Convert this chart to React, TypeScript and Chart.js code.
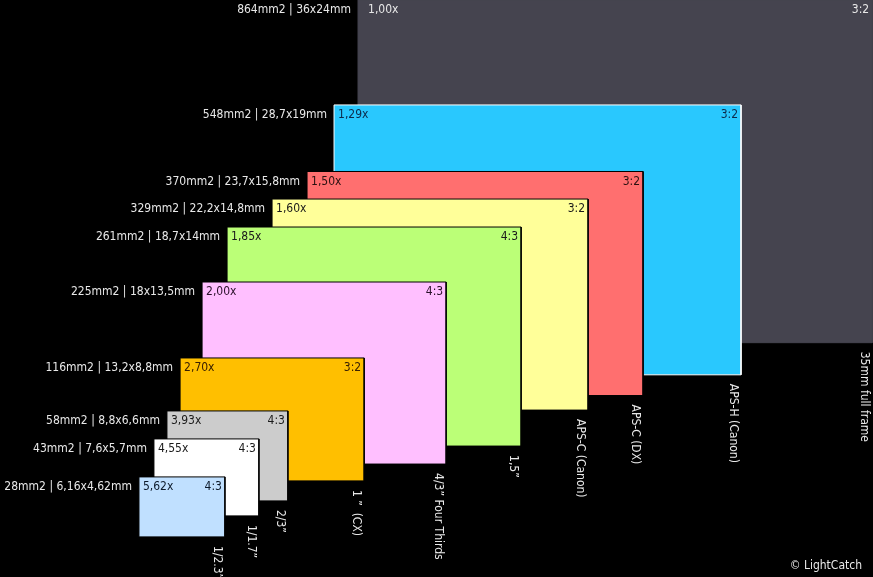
import React, { useEffect, useRef } from 'react';
import { Chart, registerables } from 'chart.js';

Chart.register(...registerables);

// ---- data ----
const sensorNames = [
  '35mm full frame',
  'APS-H (Canon)',
  'APS-C (DX)',
  'APS-C (Canon)',
  '1,5”',
  '4/3” Four Thirds',
  '1 ”  (CX)',
  '2/3”',
  '1/1.7”',
  '1/2.3”',
];
const sizeLabels = [
  '864mm2 | 36x24mm',
  '548mm2 | 28,7x19mm',
  '370mm2 | 23,7x15,8mm',
  '329mm2 | 22,2x14,8mm',
  '261mm2 | 18,7x14mm',
  '225mm2 | 18x13,5mm',
  '116mm2 | 13,2x8,8mm',
  '58mm2 | 8,8x6,6mm',
  '43mm2 | 7,6x5,7mm',
  '28mm2 | 6,16x4,62mm',
];
const cropFactors = ['1,00x', '1,29x', '1,50x', '1,60x', '1,85x', '2,00x', '2,70x', '3,93x', '4,55x', '5,62x'];
const aspectRatios = ['3:2', '3:2', '3:2', '3:2', '4:3', '4:3', '3:2', '4:3', '4:3', '4:3'];

// drawn rectangles, in mm on the chart's axes
const rectLeft = [25.07, 23.39, 21.5, 19.05, 15.9, 14.15, 12.61, 11.69, 10.78, 9.73];
const rectTop = [0, 7.35, 12.01, 13.94, 15.9, 19.75, 25.07, 28.78, 30.74, 33.4];
const rectWidth = [36.0, 28.5, 23.53, 22.13, 20.59, 17.09, 12.89, 8.47, 7.35, 6.02];
const rectHeight = [24.0, 18.9, 15.69, 14.78, 15.34, 12.75, 8.61, 6.3, 5.39, 4.2];

// axis extents (mm)
const xMaxMm = 61.13;
const yMaxMm = 40.41;

// ---- styles ----
const fillColors = [
  '#45444f',
  '#29c8fe',
  '#ff6f6f',
  '#ffff99',
  '#bbff77',
  '#ffbfff',
  '#ffbf00',
  '#cccccc',
  '#ffffff',
  '#c0e0ff',
];
const borderColors = [
  '#45444f',
  '#ffffff',
  '#000000',
  '#000000',
  '#000000',
  '#000000',
  '#000000',
  '#000000',
  '#000000',
  '#000000',
];
const innerTextColors = [
  '#e8e8e8',
  '#0d2a4a',
  '#2a1010',
  '#1a1a1a',
  '#1a1a1a',
  '#2a102a',
  '#3a2000',
  '#1a1a1a',
  '#1a1a1a',
  '#0d1a2a',
];
const FONT = '12px "DejaVu Sans Condensed", "DejaVu Sans", Verdana, sans-serif';
const LIGHT = '#e8e8e8';

const labelPlugin = {
  id: 'sensorLabels',
  beforeDraw(chart: any) {
    const { ctx, width, height } = chart;
    ctx.save();
    ctx.fillStyle = '#000000';
    ctx.fillRect(0, 0, width, height);
    ctx.restore();
  },
  afterDatasetsDraw(chart: any) {
    const { ctx, chartArea } = chart;
    const x = chart.scales.x;
    const y = chart.scales.y;
    ctx.save();
    ctx.font = FONT;
    for (let i = 0; i < sensorNames.length; i++) {
      const l = x.getPixelForValue(rectLeft[i]);
      const r = x.getPixelForValue(rectLeft[i] + rectWidth[i]);
      const t = y.getPixelForValue(rectTop[i]);
      const b = y.getPixelForValue(rectTop[i] + rectHeight[i]);

      ctx.textBaseline = 'middle';
      ctx.fillStyle = LIGHT;
      ctx.textAlign = 'right';
      ctx.fillText(sizeLabels[i], l - 7, t + 10);

      ctx.fillStyle = innerTextColors[i];
      ctx.textAlign = 'left';
      ctx.fillText(cropFactors[i], l + (i === 0 ? 10 : 4), t + 10);
      ctx.textAlign = 'right';
      ctx.fillText(aspectRatios[i], r - 3, t + 10);

      ctx.save();
      ctx.translate(r - 8, b + 9);
      ctx.rotate(Math.PI / 2);
      ctx.textAlign = 'left';
      ctx.textBaseline = 'middle';
      ctx.fillStyle = LIGHT;
      ctx.fillText(sensorNames[i], 0, 0);
      ctx.restore();
    }
    ctx.textAlign = 'right';
    ctx.textBaseline = 'middle';
    ctx.fillStyle = LIGHT;
    ctx.fillText('© LightCatch', chartArea.right - 11, chartArea.bottom - 11);
    ctx.restore();
  },
};

export default function App() {
  const canvasRef = useRef<HTMLCanvasElement | null>(null);

  useEffect(() => {
    document.body.style.margin = '0';
    document.body.style.background = '#000';
    const canvas = canvasRef.current;
    if (!canvas) return;

    const n = sensorNames.length;
    const datasets = sensorNames.map((name, i) => {
      const x0 = rectLeft[i];
      const x1 = rectLeft[i] + rectWidth[i];
      const y0 = rectTop[i];
      const y1 = rectTop[i] + rectHeight[i];
      return {
        label: name,
        data: [
          { x: x0, y: y0 },
          { x: x1, y: y0 },
          { x: x1, y: y1 },
          { x: x0, y: y1 },
          { x: x0, y: y0 },
        ],
        backgroundColor: fillColors[i],
        borderColor: borderColors[i],
        borderWidth: 1,
        fill: 'shape',
        pointRadius: 0,
        tension: 0,
        order: n - i,
      };
    });

    const chart = new Chart(canvas, {
      type: 'line',
      data: { datasets } as any,
      options: {
        responsive: false,
        animation: false,
        devicePixelRatio: 1,
        events: [],
        layout: { padding: 0 },
        plugins: {
          legend: { display: false },
          tooltip: { enabled: false },
        },
        scales: {
          x: { type: 'linear', display: false, min: 0, max: xMaxMm },
          y: { type: 'linear', display: false, min: 0, max: yMaxMm, reverse: true },
        },
      } as any,
      plugins: [labelPlugin],
    });
    return () => chart.destroy();
  }, []);

  return (
    <div style={{ width: 873, height: 577, background: '#000' }}>
      <canvas ref={canvasRef} width={873} height={577} style={{ display: 'block' }} />
    </div>
  );
}
